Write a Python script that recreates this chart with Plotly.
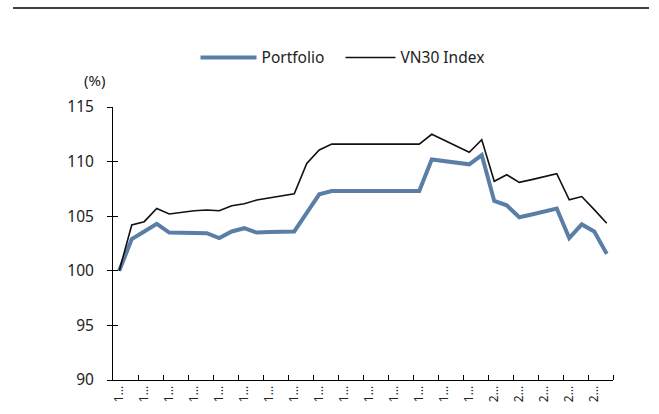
import plotly.graph_objects as go

# ---- data ----
portfolio = [100.0, 102.9, 103.6, 104.3, 103.5, 103.5, 103.5, 103.45, 103.0, 103.6,
             103.9, 103.5, 103.55, 103.55, 103.6, 105.3, 107.0, 107.3, 107.3, 107.3,
             107.3, 107.3, 107.3, 107.3, 107.3, 110.2, 110.05, 109.9, 109.75, 110.6,
             106.4, 106.0, 104.9, 105.15, 105.45, 105.7, 103.0, 104.25, 103.6, 101.55]
vn30 = [100.0, 104.2, 104.5, 105.7, 105.2, 105.35, 105.5, 105.57, 105.5, 105.96,
        106.14, 106.48, 106.67, 106.85, 107.06, 109.84, 111.06, 111.6, 111.6, 111.6,
        111.6, 111.6, 111.6, 111.6, 111.6, 112.5, 111.95, 111.4, 110.85, 112.0,
        108.2, 108.8, 108.1, 108.35, 108.6, 108.9, 106.5, 106.8, 105.6, 104.35]
x_index = list(range(len(portfolio)))
tick_labels = ["1…"] * 15 + ["2…"] * 5
y_ticks = [90, 95, 100, 105, 110, 115]

label_pos = x_index[::2]
minor_pos = [p + 1.5 for p in label_pos]

FONT = "Noto Sans"
TXT = "#222222"

fig = go.Figure()
fig.add_trace(go.Scatter(x=x_index, y=portfolio, name="Portfolio", mode="lines",
                         line=dict(color="#5b7ea6", width=4), legend="legend"))
fig.add_trace(go.Scatter(x=x_index, y=vn30, name="VN30 Index", mode="lines",
                         line=dict(color="#111111", width=1.6), legend="legend2"))
# helper trace so the overlay axis (inside half of the crossing y ticks) is drawn
fig.add_trace(go.Scatter(x=[x_index[0]], y=[portfolio[0]], yaxis="y2", mode="markers",
                         marker=dict(opacity=0), showlegend=False, hoverinfo="skip"))

fig.update_layout(
    width=659, height=414,
    margin=dict(l=113, r=46, t=107, b=34, autoexpand=False),
    paper_bgcolor="white", plot_bgcolor="white",
    font=dict(family=FONT, size=15, color=TXT),
    showlegend=True,
    legend=dict(orientation="h", x=0.165, xanchor="left", y=1.18, yanchor="middle",
                font=dict(size=15.5, color=TXT), itemwidth=56,
                bgcolor="rgba(0,0,0,0)"),
    legend2=dict(orientation="h", x=0.455, xanchor="left", y=1.18, yanchor="middle",
                 font=dict(size=15.5, color=TXT), itemwidth=50,
                 bgcolor="rgba(0,0,0,0)"),
    xaxis=dict(range=[-0.5, 39.5], showgrid=False, zeroline=False, automargin=False,
               showline=True, linecolor="#000000", linewidth=1,
               tickmode="array", tickvals=label_pos, ticktext=tick_labels,
               ticks="", tickangle=-90, tickfont=dict(size=12, color=TXT),
               minor=dict(tickmode="array", tickvals=minor_pos, ticks="inside",
                          ticklen=5, tickcolor="#000000", tickwidth=1, showgrid=False)),
    yaxis=dict(range=[90, 115], showgrid=False, zeroline=False, automargin=False,
               showline=True, linecolor="#000000", linewidth=1,
               tickmode="array", tickvals=y_ticks,
               ticks="outside", ticklen=5, tickcolor="#000000", tickwidth=1,
               ticklabelstandoff=10, tickfont=dict(size=15.5, color=TXT)),
    yaxis2=dict(range=[90, 115], overlaying="y", side="left", showgrid=False,
                zeroline=False, showline=False, tickmode="array", tickvals=y_ticks,
                ticks="inside", ticklen=5, tickcolor="#000000", tickwidth=1,
                showticklabels=False, automargin=False),
    annotations=[dict(text="(%)", xref="paper", yref="paper", x=-0.038, y=1.099,
                      xanchor="center", yanchor="middle", showarrow=False,
                      font=dict(size=15, color=TXT))],
    shapes=[dict(type="line", xref="paper", yref="paper", x0=-0.2, x1=1.072,
                 y0=1.3626, y1=1.3626, line=dict(color="#000000", width=1.5))],
)

fig.write_html("out.html", config={"displayModeBar": False},
               post_script="document.body.style.margin='0px';")
